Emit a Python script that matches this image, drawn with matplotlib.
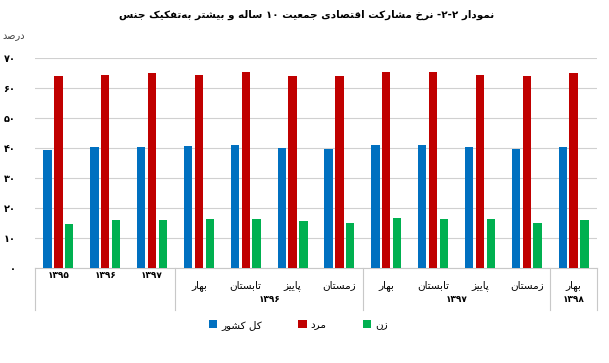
import re
import matplotlib
matplotlib.use("Agg")
import matplotlib.pyplot as plt
import numpy as np

# داده ها
groups = ["1395", "1396", "1397", "بهار", "تابستان", "پاییز", "زمستان",
          "بهار", "تابستان", "پاییز", "زمستان", "بهار"]
year_top = ["۱۳۹۵", "۱۳۹۶", "۱۳۹۷"]
seasons = ["بهار", "تابستان", "پاییز", "زمستان", "بهار", "تابستان", "پاییز", "زمستان", "بهار"]
year_bottom = ["۱۳۹۶", "۱۳۹۷", "۱۳۹۸"]
year_span = [(3, 7), (7, 11), (11, 12)]
series_names = ["کل کشور", "مرد", "زن"]
total = [39.4, 40.3, 40.5, 40.7, 41.0, 40.1, 39.7, 41.1, 40.9, 40.5, 39.7, 40.5]
men = [64.1, 64.5, 64.9, 64.5, 65.2, 64.1, 64.1, 65.3, 65.3, 64.3, 64.0, 65.0]
women = [14.8, 15.9, 16.0, 16.3, 16.4, 15.8, 14.9, 16.8, 16.2, 16.3, 14.9, 16.0]
yticks = [0, 10, 20, 30, 40, 50, 60, 70]
ytick_labels = ["۰", "۱۰", "۲۰", "۳۰", "۴۰", "۵۰", "۶۰", "۷۰"]
title = "نمودار ۲-۲- نرخ مشارکت اقتصادی جمعیت ۱۰ ساله و بیشتر به\u200cتفکیک جنس"
colors = ["#0070C0", "#C00000", "#00B050"]

# شکل حروف فارسی (matplotlib متن راست به چپ را پشتیبانی نمیکند)
FORMS = {
    "ا": (0xFE8D, 0xFE8E, None, None), "ب": (0xFE8F, 0xFE90, 0xFE91, 0xFE92),
    "پ": (0xFB56, 0xFB57, 0xFB58, 0xFB59), "ت": (0xFE95, 0xFE96, 0xFE97, 0xFE98),
    "ج": (0xFE9D, 0xFE9E, 0xFE9F, 0xFEA0), "خ": (0xFEA5, 0xFEA6, 0xFEA7, 0xFEA8),
    "د": (0xFEA9, 0xFEAA, None, None), "ر": (0xFEAD, 0xFEAE, None, None),
    "ز": (0xFEAF, 0xFEB0, None, None), "س": (0xFEB1, 0xFEB2, 0xFEB3, 0xFEB4),
    "ش": (0xFEB5, 0xFEB6, 0xFEB7, 0xFEB8), "ص": (0xFEB9, 0xFEBA, 0xFEBB, 0xFEBC),
    "ع": (0xFEC9, 0xFECA, 0xFECB, 0xFECC), "ف": (0xFED1, 0xFED2, 0xFED3, 0xFED4),
    "ق": (0xFED5, 0xFED6, 0xFED7, 0xFED8), "ک": (0xFB8E, 0xFB8F, 0xFB90, 0xFB91),
    "ل": (0xFEDD, 0xFEDE, 0xFEDF, 0xFEE0), "م": (0xFEE1, 0xFEE2, 0xFEE3, 0xFEE4),
    "ن": (0xFEE5, 0xFEE6, 0xFEE7, 0xFEE8), "ه": (0xFEE9, 0xFEEA, 0xFEEB, 0xFEEC),
    "و": (0xFEED, 0xFEEE, None, None), "ی": (0xFBFC, 0xFBFD, 0xFBFE, 0xFBFF),
}


def fa(text):
    out = []
    for i, c in enumerate(text):
        if c not in FORMS:
            if c != "\u200c":
                out.append(c)
            continue
        prev = text[i - 1] if i > 0 else None
        nxt = text[i + 1] if i + 1 < len(text) else None
        jp = prev in FORMS and FORMS[prev][2] is not None
        jn = nxt in FORMS and FORMS[c][2] is not None
        iso, fin, ini, med = FORMS[c]
        if jp and jn:
            out.append(chr(med))
        elif jp:
            out.append(chr(fin))
        elif jn:
            out.append(chr(ini))
        else:
            out.append(chr(iso))
    s = "".join(out)[::-1]
    return re.sub(r"[۰-۹0-9]+", lambda m: m.group()[::-1], s)


plt.rcParams["font.family"] = ["DejaVu Sans"]

fig = plt.figure(figsize=(6.09, 3.63), dpi=100)
ax = fig.add_axes([35 / 609, 1 - 268 / 363, 562 / 609, 210 / 363])

x = np.arange(len(groups))
w = 0.178
for off, vals, c, name in zip([-0.23, 0, 0.23], [total, men, women], colors, series_names):
    ax.bar(x + off, vals, width=w, color=c, label=fa(name), zorder=3)

ax.set_xlim(-0.5, len(groups) - 0.5)
ax.set_ylim(0, 70)
ax.set_yticks(yticks)
ax.set_yticklabels(ytick_labels, fontsize=7, fontweight="bold")
ax.tick_params(axis="y", length=0, pad=14)
ax.set_xticks([])
ax.grid(axis="y", color="#d0d0d0", linewidth=0.8, zorder=0)
for sp in ["top", "right", "left"]:
    ax.spines[sp].set_visible(False)
ax.spines["bottom"].set_color("#c8c8c8")

tr = ax.get_xaxis_transform()
# خطوط جدا کننده محور افقی
for b in [0, 3, 7, 11, 12]:
    ax.plot([b - 0.5, b - 0.5], [0, -0.2], transform=tr, color="#c8c8c8",
            linewidth=0.8, clip_on=False)
for i, lab in enumerate(year_top):
    ax.text(i, -0.035, lab, transform=tr, ha="center", va="center",
            fontsize=6.5, fontweight="bold")
for i, lab in enumerate(seasons):
    ax.text(i + 3, -0.082, fa(lab), transform=tr, ha="center", va="center", fontsize=7.5)
for lab, (a, b) in zip(year_bottom, year_span):
    ax.text((a + b - 1) / 2, -0.148, lab, transform=tr, ha="center", va="center",
            fontsize=6.5, fontweight="bold")

fig.text(14 / 609, 1 - 36 / 363, fa("درصد"), ha="center", va="center", fontsize=7, color="#404040")
fig.suptitle(fa(title), x=307 / 609, y=1 - 15 / 363, va="center", fontsize=7.5, fontweight="bold")

fig.legend(loc="center", bbox_to_anchor=(0.49, 0.105), ncol=3, frameon=False,
           fontsize=7.5, handlelength=0.8, handleheight=0.8, columnspacing=3.5,
           handletextpad=0.4)

fig.savefig("out.png", dpi=100)
